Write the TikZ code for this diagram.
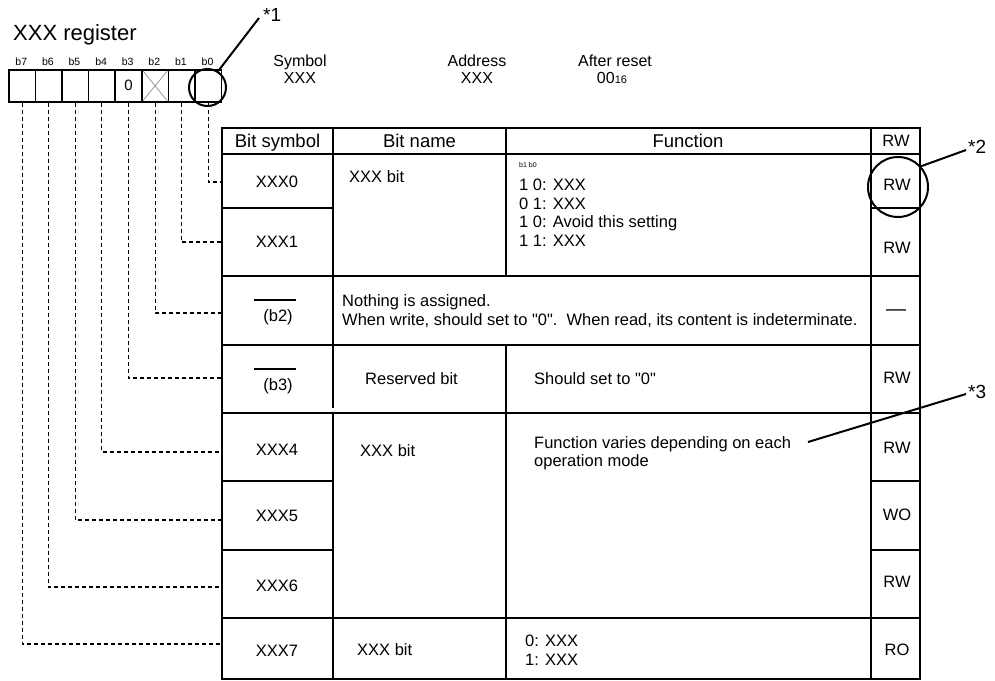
\documentclass[tikz,border=0pt]{standalone}
\usepackage{fontspec}
\setmainfont{Liberation Sans}
\newcommand\fsz[2]{\fontsize{#1}{#2}\selectfont}
\newcommand\qq{\textquotedbl}
\begin{document}
\begin{tikzpicture}[x=1pt,y=-1pt,
  txt/.style={inner sep=0pt, font=\fsz{16.5}{18.3}},
  hdr/.style={inner sep=0pt, font=\fsz{18.5}{21}, anchor=base},
  info/.style={inner sep=0pt, font=\fsz{16}{18}, anchor=base},
  mtxt/.style={inner sep=0pt, font=\fsz{16.5}{18.5}, align=left, anchor=north west},
  grid/.style={line width=1.6pt},
  lead/.style={line width=1.1pt, dash pattern=on 4pt off 3pt},
  callout/.style={line width=2pt},
  ringmark/.style={circle, draw, line width=2pt, inner sep=0pt},
  bitbox/.style={draw, line width=1.6pt, minimum width=26.6pt, minimum height=32pt, inner sep=0pt, anchor=north west, font=\fsz{15}{17}},
  bitlbl/.style={inner sep=0pt, font=\fsz{10.5}{12}, anchor=base},
  star/.style={inner sep=0pt, font=\fsz{19}{21}, anchor=west}]
\useasboundingbox (0,0) rectangle (995,680);

% ---- register title and bit boxes
\node[inner sep=0pt, font=\fsz{22}{25}, anchor=base west] (title) at (13,40) {XXX register};
\foreach \i in {0,...,7}{
  \node[bitlbl] (lb\i) at ({8+26.6*(7.5-\i)},65) {b\i};
}
\foreach \i in {0,1,2,4,5,6,7}{
  \node[bitbox] (bit\i) at ({8+26.6*(7-\i)},69) {};
}
\node[bitbox] (bit3) at ({8+26.6*4},69) {0};
\draw[line width=0.6pt, gray] ([shift={(2pt,-2pt)}]bit2.north west) -- ([shift={(-2pt,2pt)}]bit2.south east)
  ([shift={(-2pt,-2pt)}]bit2.north east) -- ([shift={(2pt,2pt)}]bit2.south west);

% ---- header info
\node[info] (symh) at (300,66.5) {Symbol};
\node[info] (symv) at (300,83.5) {XXX};
\node[info] (adrh) at (477,66.5) {Address};
\node[info] (adrv) at (477,83.5) {XXX};
\node[info] (rsth) at (615,66.5) {After reset};
\node[info] (rstv) at (612,83.5) {00{\fsz{11}{13}16}};

% ---- table grid
\draw[grid] (222,128) rectangle (920,679);
\foreach \y in {154,276,345,413,618}{ \draw[grid] (222,\y) -- (920,\y); }
\foreach \y in {208,481,550}{
  \draw[grid] (222,\y) -- (333,\y);
  \draw[grid] (871,\y) -- (920,\y);
}
\draw[grid] (333,128) -- (333,408);
\draw[grid] (333,413) -- (333,679);
\draw[grid] (506,128) -- (506,276);
\draw[grid] (506,345) -- (506,679);
\draw[grid] (871,128) -- (871,679);

% ---- header row
\node[hdr] (hsym) at (277.5,147.5) {Bit symbol};
\node[hdr] (hname) at (419.5,147.5) {Bit name};
\node[hdr] (hfun) at (688,147.5) {Function};
\node[txt] (hrw) at (896,141) {RW};

% ---- bit symbol column
\node[txt] (s0) at (277,182) {XXX0};
\node[txt] (s1) at (277,242) {XXX1};
\node[txt] (s2) at (278,317) {(b2)};
\node[txt] (s3) at (278,386) {(b3)};
\node[txt] (s4) at (277,450) {XXX4};
\node[txt] (s5) at (277,516) {XXX5};
\node[txt] (s6) at (277,586) {XXX6};
\node[txt] (s7) at (277,651) {XXX7};
\draw[line width=1.2pt] ([shift={(-24pt,17pt)}]s2.center) -- ++(42,0);
\draw[line width=1.2pt] ([shift={(-24pt,17pt)}]s3.center) -- ++(42,0);

% ---- bit names
\node[txt, anchor=west] (n01) at (349,177) {XXX bit};
\node[txt] (n3) at (411.5,379) {Reserved bit};
\node[txt, anchor=west] (n46) at (360,451) {XXX bit};
\node[txt, anchor=west] (n7) at (357,650) {XXX bit};

% ---- functions
\node[inner sep=0pt, font=\fsz{7}{8}, anchor=west] (fb) at (519,165) {b1 b0};
\node[mtxt] (f01) at (519,179) {1 0: XXX\\0 1: XXX\\1 0: Avoid this setting\\1 1: XXX};
\node[mtxt, font=\fsz{16.5}{19.3}] (f2) at (342,294.5) {Nothing is assigned.\\When write, should set to \qq0\qq.\ \ When read, its content is indeterminate.};
\node[txt, anchor=west] (f3) at (534,379) {Should set to \qq0\qq};
\node[mtxt] (f46) at (534,436) {Function varies depending on each\\operation mode};
\node[mtxt] (f7) at (525,635) {0: XXX\\1: XXX};

% ---- RW column
\node[txt] (r0) at (897,185) {RW};
\node[txt] (r1) at (897,248) {RW};
\node[inner sep=0pt, font=\fsz{20}{22}] (r2) at (896,313) {—};
\node[txt] (r3) at (897,378) {RW};
\node[txt] (r4) at (897,448) {RW};
\node[txt] (r5) at (897,515) {WO};
\node[txt] (r6) at (897,582) {RW};
\node[txt] (r7) at (897,650) {RO};

% ---- dashed leaders
\coordinate (e0) at (222,182);
\coordinate (e1) at (222,242);
\coordinate (e2) at (222,313);
\coordinate (e3) at (222,378);
\coordinate (e4) at (222,452);
\coordinate (e5) at (222,520);
\coordinate (e6) at (222,587);
\coordinate (e7) at (222,644);
\foreach \i in {0,...,7}{ \draw[lead] (bit\i.south) |- (e\i); }

% ---- callouts
\node[ringmark, minimum size=37pt] (c1) at (207.5,87.5) {};
\node[star] (k1) at (263,15) {*1};
\draw[callout] (c1.57) -- ([xshift=-4pt,yshift=-3pt]k1.west);
\node[ringmark, minimum size=60pt] (c2) at (898,187) {};
\node[star] (k2) at (968,147) {*2};
\draw[callout] (c2.42) -- ([xshift=-2pt,yshift=-3pt]k2.west);
\coordinate (p3) at (808,442);
\node[star] (k3) at (968,392) {*3};
\draw[callout] (p3) -- ([xshift=-2pt,yshift=-2pt]k3.west);
\end{tikzpicture}
\end{document}
